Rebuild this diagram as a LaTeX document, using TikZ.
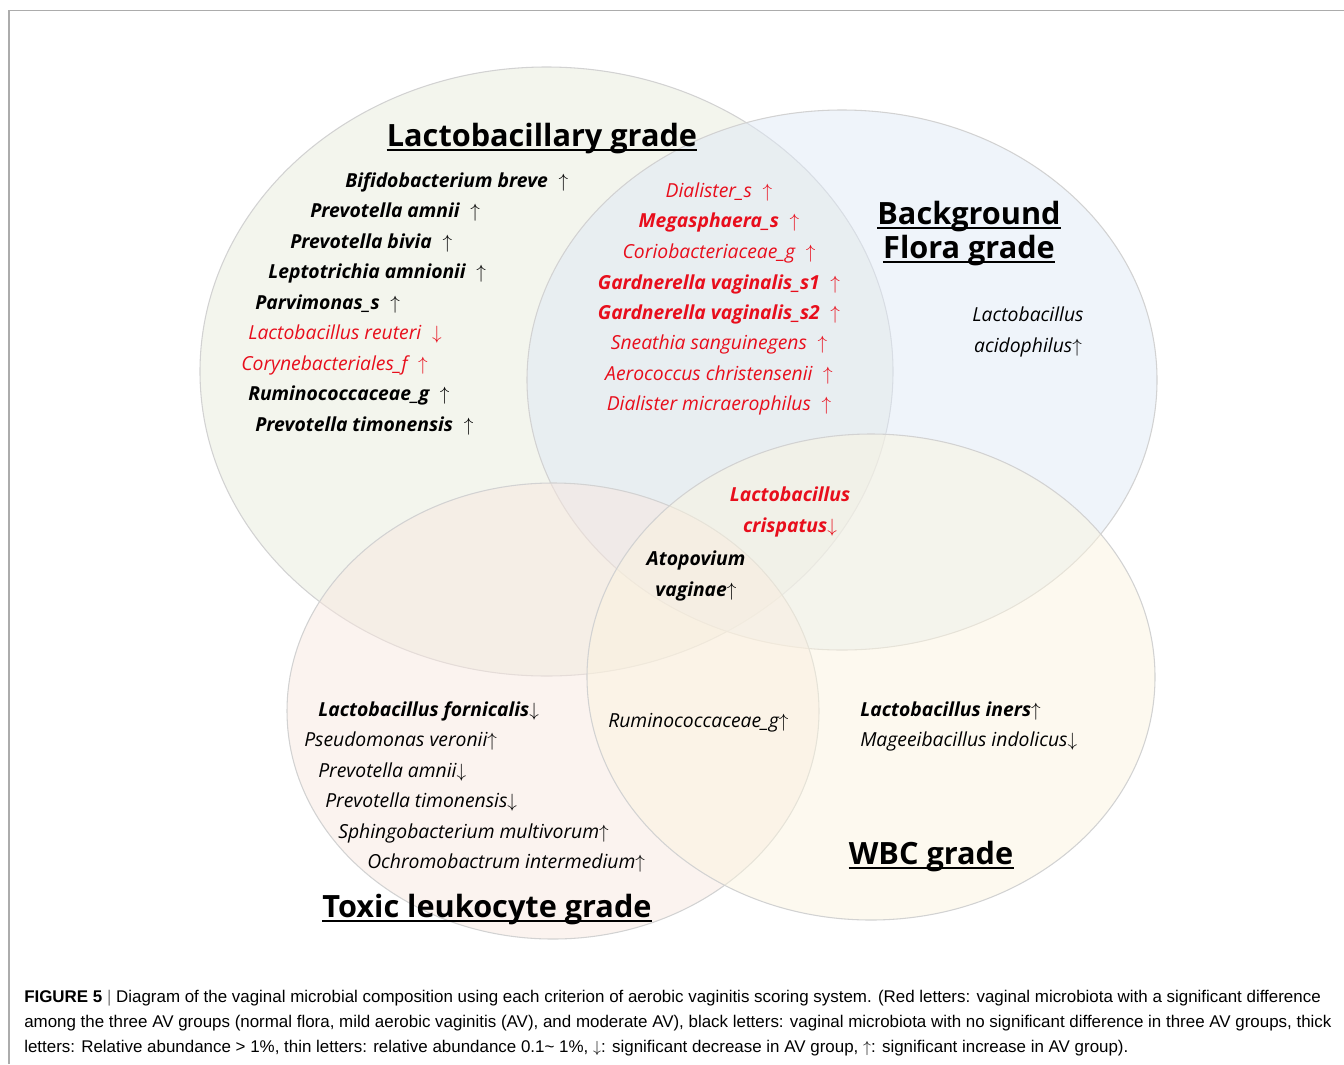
\documentclass[tikz,border=0pt]{standalone}
\usepackage{fontspec}
\setmainfont{Open Sans}
\newfontfamily\capfont{Liberation Sans}
\usepackage{tikz}
\usepackage{xcolor}

\definecolor{lactofill}{RGB}{231,235,220}
\definecolor{bgfill}{RGB}{223,233,246}
\definecolor{toxfill}{RGB}{248,231,223}
\definecolor{wbcfill}{RGB}{251,244,223}
\definecolor{rimgray}{RGB}{210,210,210}
\definecolor{avred}{RGB}{232,14,28}

\newcommand{\sigup}{$\uparrow$}
\newcommand{\sigdown}{$\downarrow$}
\newcommand{\gapup}{\hspace{0.55em}$\uparrow$}
\newcommand{\gapdown}{\hspace{0.55em}$\downarrow$}

\begin{document}
\begin{tikzpicture}[x=0.75pt,y=-0.75pt,
  rim/.style={draw=rimgray,line width=0.8pt,fill opacity=0.5},
  grade/.style={inner sep=0pt,anchor=base,font=\fontsize{23}{26}\selectfont\bfseries},
  spbold/.style={inner sep=0pt,font=\fontsize{14.5}{23.5}\selectfont\bfseries\itshape},
  spthin/.style={inner sep=0pt,font=\fontsize{14.5}{23.5}\selectfont\itshape},
  capline/.style={inner sep=0pt,anchor=west,font=\capfont\fontsize{12.7}{15}\selectfont}]
  \useasboundingbox (0,0) rectangle (1344,1064);
  \draw[gray!65,line width=1.1pt] (9,1064) -- (9,10.5) -- (1344,10.5);

  % the four grades
  \filldraw[rim,fill=lactofill] (546.5,371.5) ellipse [x radius=346.5,y radius=304.5];
  \filldraw[rim,fill=bgfill] (842,380) ellipse [x radius=315,y radius=270];
  \filldraw[rim,fill=toxfill] (553,711) ellipse [x radius=266,y radius=228];
  \filldraw[rim,fill=wbcfill] (871,677) ellipse [x radius=284,y radius=243];

  % titles
  \node[grade] (lactog) at (542,146) {Lactobacillary grade};
  \node[grade] (bgtop) at (969,224) {Background};
  \node[grade] (bgbot) at (969,258) {Flora grade};
  \node[grade] (toxg) at (487,917) {Toxic leukocyte grade};
  \node[grade] (wbcg) at (931,864) {WBC grade};
  \foreach \t in {lactog,bgtop,bgbot,toxg,wbcg}
    \draw[line width=1.2pt] ([yshift=-3pt]\t.base west) -- ([yshift=-3pt]\t.base east);

  % lactobacillary grade only
  \node[spbold,anchor=west] (bifido) at (345,182) {Bifidobacterium breve\gapup};
  \node[spbold,anchor=west] (pamnii) at (310,212) {Prevotella amnii\gapup};
  \node[spbold,anchor=west] (pbivia) at (290,243) {Prevotella bivia\gapup};
  \node[spbold,anchor=west] (lepto) at (268,273) {Leptotrichia amnionii\gapup};
  \node[spbold,anchor=west] (parvi) at (255,304) {Parvimonas\_s\gapup};
  \node[spthin,anchor=west,avred] (lreut) at (248,334) {Lactobacillus reuteri\gapdown};
  \node[spthin,anchor=west,avred] (coryne) at (241,365) {Corynebacteriales\_f\gapup};
  \node[spbold,anchor=west] (rumino) at (248,395) {Ruminococcaceae\_g\gapup};
  \node[spbold,anchor=west] (ptimon) at (255,426) {Prevotella timonensis\gapup};

  % lactobacillary and background flora
  \node[spthin,avred] (dials) at (719,192) {Dialister\_s\gapup};
  \node[spbold,avred] (megas) at (719,222) {Megasphaera\_s\gapup};
  \node[spthin,avred] (corio) at (719,253) {Coriobacteriaceae\_g\gapup};
  \node[spbold,avred] (gvag1) at (719,284) {Gardnerella vaginalis\_s1\gapup};
  \node[spbold,avred] (gvag2) at (719,314) {Gardnerella vaginalis\_s2\gapup};
  \node[spthin,avred] (sneath) at (719,344) {Sneathia sanguinegens\gapup};
  \node[spthin,avred] (aeroc) at (719,375) {Aerococcus christensenii\gapup};
  \node[spthin,avred] (dialm) at (719,405) {Dialister micraerophilus\gapup};

  % background flora only
  \node[spthin,align=center] (lacido) at (1028,332) {Lactobacillus\\acidophilus\sigup};

  % centre
  \node[spbold,align=center,avred] (lcrisp) at (790,512) {Lactobacillus\\crispatus\sigdown};
  \node[spbold,align=center] (atopo) at (696,576) {Atopovium\\vaginae\sigup};

  % toxic leukocyte grade
  \node[spbold,anchor=west] (lforn) at (318,711) {Lactobacillus fornicalis\sigdown};
  \node[spthin,anchor=west] (pseudo) at (304,741) {Pseudomonas veronii\sigup};
  \node[spthin,anchor=west] (pamniit) at (318,772) {Prevotella amnii\sigdown};
  \node[spthin,anchor=west] (ptimont) at (325,802) {Prevotella timonensis\sigdown};
  \node[spthin,anchor=west] (sphingo) at (338,833) {Sphingobacterium multivorum\sigup};
  \node[spthin,anchor=west] (ochro) at (367,863) {Ochromobactrum intermedium\sigup};
  \node[spthin,anchor=west] (ruminot) at (608,723) {Ruminococcaceae\_g\sigup};

  % WBC grade
  \node[spbold,anchor=west] (liners) at (860,711) {Lactobacillus iners\sigup};
  \node[spthin,anchor=west] (magee) at (860,741) {Mageeibacillus indolicus\sigdown};

  % caption
  \node[capline] (cap1) at (24,998) {\textbf{FIGURE 5} {\color{gray}|} Diagram of the vaginal microbial composition using each criterion of aerobic vaginitis scoring system. (Red letters: vaginal microbiota with a significant difference};
  \node[capline] (cap2) at (24,1023) {among the three AV groups (normal flora, mild aerobic vaginitis (AV), and moderate AV), black letters: vaginal microbiota with no significant difference in three AV groups, thick};
  \node[capline] (cap3) at (24,1048) {letters: Relative abundance > 1\%, thin letters: relative abundance 0.1\textasciitilde{} 1\%, \sigdown: significant decrease in AV group, \sigup: significant increase in AV group).};
\end{tikzpicture}
\end{document}
